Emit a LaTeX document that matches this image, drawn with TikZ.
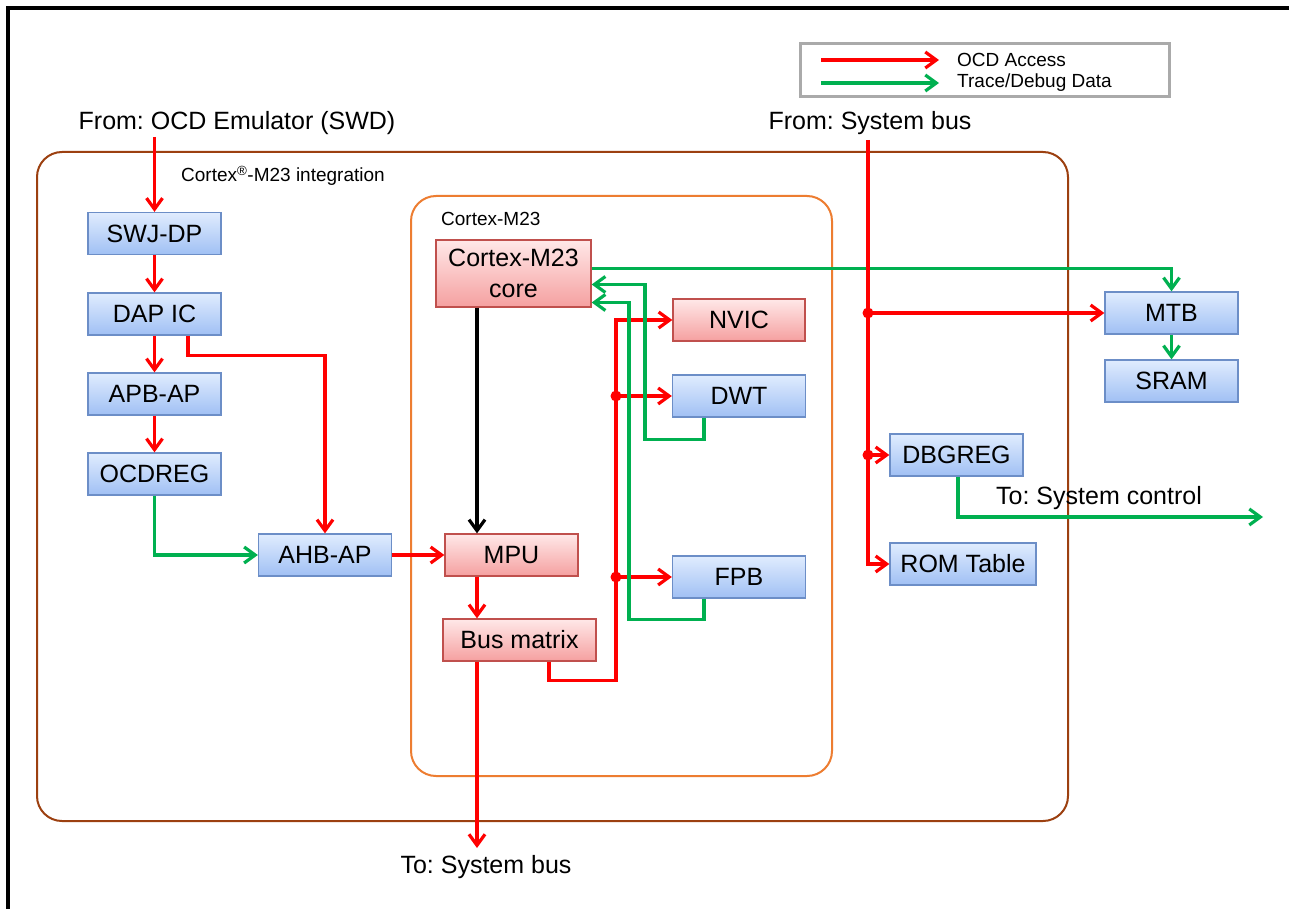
\documentclass[tikz,border=0pt]{standalone}
\usepackage{fontspec}
\setmainfont{Liberation Sans}
\usetikzlibrary{arrows.meta}
\frenchspacing
\definecolor{ocdred}{RGB}{255,0,0}
\definecolor{trgreen}{RGB}{0,176,80}
\definecolor{bluetop}{RGB}{224,236,254}
\definecolor{bluebot}{RGB}{160,192,244}
\definecolor{bluebd}{RGB}{108,142,199}
\definecolor{redtop}{RGB}{255,232,232}
\definecolor{redbot}{RGB}{245,160,160}
\definecolor{redbd}{RGB}{192,80,77}
\definecolor{intbrown}{RGB}{156,64,16}
\definecolor{coreorange}{RGB}{237,125,49}
\definecolor{leggray}{RGB}{170,170,170}
\begin{document}
\frenchspacing
\begin{tikzpicture}[x=1pt,y=-1pt,
  big/.style={font=\fontsize{25}{27}\selectfont},
  small/.style={font=\fontsize{19}{21}\selectfont},
  box/.style={big, inner sep=0pt, line width=1.3pt, minimum height=42pt},
  bluebox/.style={box, draw=bluebd, top color=bluetop, bottom color=bluebot, minimum width=133pt},
  redbox/.style={box, draw=redbd, top color=redtop, bottom color=redbot},
  tip/.style={-{Straight Barb[length=11pt,width=16pt]}},
  redline/.style={draw=ocdred, line width=3.2pt},
  greenline/.style={draw=trgreen, line width=3.2pt},
  blackline/.style={draw=black, line width=3.2pt},
  dot/.style={fill=ocdred}
]
\useasboundingbox (0,0) rectangle (1289,909);
\fill[white] (0,0) rectangle (1289,909);
\draw[line width=3.5pt] (8,909) -- (8,8) -- (1289,8);

% containers
\draw[intbrown, line width=2pt, rounded corners=25pt] (37,152) rectangle (1068,821);
\draw[coreorange, line width=2pt, rounded corners=25pt] (411,196) rectangle (832,776);
\node[small, anchor=west, inner sep=0pt] (intlabel) at (181,176) {Cortex\textsuperscript{®}-M23 integration};
\node[small, anchor=west, inner sep=0pt] (corelabel) at (441,219) {Cortex-M23};

% legend
\node[draw=leggray, line width=3pt, minimum width=369pt, minimum height=53pt, inner sep=0pt] (legend) at (984.5,70.5) {};
\coordinate (lr1) at (821,60);
\coordinate (lr2) at (939,60);
\coordinate (lg1) at (821,83);
\coordinate (lg2) at (939,83);
\node[small, anchor=west, inner sep=0pt] (legocd) at (957,60) {OCD Access};
\node[small, anchor=west, inner sep=0pt] (legtrace) at (957,83) {Trace/Debug Data};
\draw[redline,tip] (lr1) -- (lr2);
\draw[greenline,tip] (lg1) -- (lg2);

% texts
\node[big] (fromocd) at (237,123) {From: OCD Emulator (SWD)};
\node[big] (fromsys) at (870,123) {From: System bus};
\node[big] (tosysbus) at (486,867) {To: System bus};
\node[big, anchor=west, inner sep=0pt] (tosysctl) at (996,498) {To: System control};

% boxes
\node[bluebox] (swj) at (154.5,233.5) {SWJ-DP};
\node[bluebox] (dap) at (154.5,314) {DAP IC};
\node[bluebox] (apb) at (154.5,394) {APB-AP};
\node[bluebox] (ocd) at (154.5,474) {OCDREG};
\node[bluebox] (ahb) at (325,555) {AHB-AP};
\node[redbox, minimum width=155pt, minimum height=67pt, align=center, font=\fontsize{25}{31}\selectfont] (core) at (513.5,273.5) {Cortex-M23\\core};
\node[redbox, minimum width=132pt] (nvic) at (739,320) {NVIC};
\node[bluebox] (dwt) at (739,396) {DWT};
\node[redbox, minimum width=133pt] (mpu) at (511.5,555) {MPU};
\node[bluebox] (fpb) at (739,577) {FPB};
\node[redbox, minimum width=153pt] (bus) at (519.5,640) {Bus matrix};
\node[bluebox] (mtb) at (1171.5,313) {MTB};
\node[bluebox] (sram) at (1171.5,381) {SRAM};
\node[bluebox] (dbg) at (956.5,455) {DBGREG};
\node[bluebox, minimum width=146pt] (rom) at (963,564) {ROM Table};

% helper coordinates
\coordinate (xbus) at (477,0);
\coordinate (xbm) at (549,0);
\coordinate (xr) at (616,0);
\coordinate (xg1) at (645,0);
\coordinate (xg2) at (629,0);
\coordinate (xsys) at (868,0);
\coordinate (xdap) at (188,0);
\coordinate (xdbg) at (958,0);
\coordinate (ocdstart) at (154.5,137);
\coordinate (sysstart) at (868,140);
\coordinate (sysbusend) at (477,848);
\coordinate (sysctlend) at (1263,517);
\coordinate (cg0) at ([yshift=5pt]core.east);
\coordinate (cg1) at ([yshift=-11pt]core.east);
\coordinate (cg2) at ([yshift=-29pt]core.east);

% left chain
\draw[redline,tip] (ocdstart) -- (swj.north);
\draw[redline,tip] (swj) -- (dap);
\draw[redline,tip] (dap) -- (apb);
\draw[redline,tip] (apb) -- (ocd);
\draw[redline,tip] (dap.south -| xdap) -- ++(0,20) -| (ahb.north);
\draw[greenline,tip] (ocd.south) |- (ahb.west);
\draw[redline,tip] (ahb.east) -- (mpu.west);

% core area
\draw[blackline,tip] (core.south -| xbus) -- (mpu.north -| xbus);
\draw[redline,tip] (mpu.south -| xbus) -- (bus.north -| xbus);
\draw[redline,tip] (bus.south -| xbus) -- (sysbusend);
\draw[redline,tip] (bus.south -| xbm) -- ++(0,19) -| (xr |- nvic.west) -- (nvic.west);
\draw[redline,tip] (xr |- dwt.west) -- (dwt.west);
\draw[redline,tip] (xr |- fpb.west) -- (fpb.west);
\fill[dot] (xr |- dwt.west) circle (5.5pt);
\fill[dot] (xr |- fpb.west) circle (5.5pt);
\draw[greenline,tip] ([xshift=-35pt]dwt.south) -- ++(0,22) -| (xg1 |- cg1) -- (cg1);
\draw[greenline,tip] ([xshift=-35pt]fpb.south) -- ++(0,21) -| (xg2 |- cg2) -- (cg2);
\draw[greenline,tip] (cg0) -| (mtb.north);
\draw[greenline,tip] (mtb) -- (sram);

% system bus side
\draw[redline,tip] (sysstart) |- (rom.west);
\draw[redline,tip] (xsys |- mtb.west) -- (mtb.west);
\draw[redline,tip] (xsys |- dbg.west) -- (dbg.west);
\fill[dot] (xsys |- mtb.west) circle (5.5pt);
\fill[dot] (xsys |- dbg.west) circle (5.5pt);
\draw[greenline,tip] (dbg.south -| xdbg) |- (sysctlend);
\end{tikzpicture}
\end{document}
